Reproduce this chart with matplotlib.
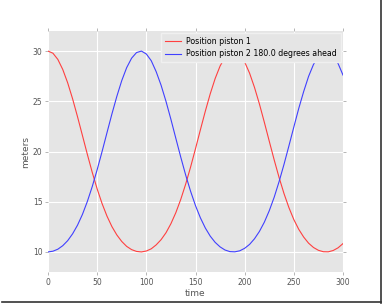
import matplotlib
matplotlib.use('Agg')
import matplotlib.pyplot as plt
from matplotlib.lines import Line2D

# time samples (every 5 units) and piston positions
time = list(range(0, 305, 5))
piston1 = [30.00, 29.79, 29.17, 28.17, 26.84, 25.25, 23.47, 21.60, 19.72, 17.92,
           16.27, 14.81, 13.56, 12.52, 11.69, 11.04, 10.55, 10.23, 10.05, 10.00,
           10.09, 10.31, 10.70, 11.22, 11.91, 12.81, 13.91, 15.23, 16.75, 18.45,
           20.28, 22.17, 24.02, 25.75, 27.27, 28.51, 29.40, 29.90, 29.98, 29.65,
           28.91, 27.80, 26.38, 24.73, 22.91, 21.03, 19.17, 17.41, 15.81, 14.41,
           13.22, 12.25, 11.48, 10.87, 10.44, 10.16, 10.02, 10.01, 10.14, 10.41,
           10.83]
piston2 = [10.00, 10.07, 10.27, 10.62, 11.12, 11.80, 12.66, 13.73, 15.02, 16.51,
           18.19, 20.00, 21.88, 23.74, 25.49, 27.06, 28.35, 29.29, 29.85, 30.00,
           29.71, 29.04, 27.95, 26.60, 24.99, 23.20, 21.31, 19.44, 17.66, 16.04,
           14.61, 13.39, 12.38, 11.57, 10.95, 10.50, 10.19, 10.03, 10.01, 10.11,
           10.36, 10.75, 11.31, 12.04, 12.96, 14.10, 15.44, 17.00, 18.72, 20.56,
           22.44, 24.29, 25.97, 27.48, 28.67, 29.50, 29.94, 29.96, 29.56, 28.76,
           27.61]
x_ticks = [0, 50, 100, 150, 200, 250, 300]
y_ticks = [10, 15, 20, 25, 30]

fig = plt.figure(figsize=(3.85, 3.05), dpi=100)
ax = fig.add_axes([48/385, 1 - 272/305, 295/385, 241/305])
ax.set_facecolor('#E5E5E5')

ax.plot(time, piston1, color='#FF4040', lw=0.8, label='Position piston 1')
ax.plot(time, piston2, color='#4040FF', lw=0.8, label='Position piston 2 180.0 degrees ahead')

ax.set_xlim(0, 300)
ax.set_ylim(8, 32)
ax.set_xticks(x_ticks)
ax.set_yticks(y_ticks)
ax.grid(True, color='white', lw=0.8)
ax.set_axisbelow(True)
for s in ax.spines.values():
    s.set_visible(False)
ax.tick_params(direction='out', length=2, width=0.6, color='#AAAAAA',
               labelsize=5.5, labelcolor='#555555', top=True, right=True,
               pad=2)
ax.set_xlabel('time', fontsize=6.5, color='#555555', labelpad=2)
ax.set_ylabel('meters', fontsize=6.5, color='#555555', labelpad=2)

leg = ax.legend(loc='upper right', fontsize=5.7, frameon=True, fancybox=False,
                borderaxespad=0.25, handlelength=2.0, borderpad=0.5,
                labelspacing=0.45, handletextpad=0.7)
leg.get_frame().set_facecolor('#E5E5E5')
leg.get_frame().set_edgecolor('#F0F0F0')
leg.get_frame().set_alpha(1)

# screenshot frame shadow on right and bottom
fig.add_artist(Line2D([381/385, 381/385], [2/305, 1], color='#333333', lw=1.2))
fig.add_artist(Line2D([2/385, 381/385], [3/305, 3/305], color='#333333', lw=1.2))

fig.savefig('out.png', dpi=100)
